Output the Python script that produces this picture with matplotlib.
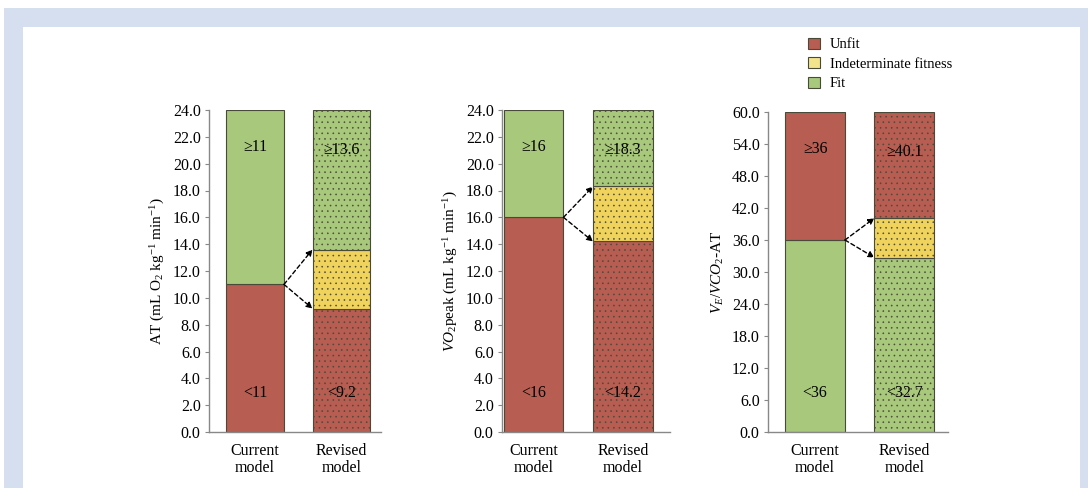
import matplotlib
matplotlib.use("Agg")
import matplotlib.pyplot as plt
from matplotlib.patches import Patch, Rectangle
import matplotlib.transforms as mtransforms

plt.rcParams["font.family"] = ["Liberation Serif", "DejaVu Serif"]
plt.rcParams["mathtext.fontset"] = "custom"
plt.rcParams["mathtext.rm"] = "Liberation Serif"
plt.rcParams["mathtext.it"] = "Liberation Serif:italic"
plt.rcParams["hatch.color"] = "#66665a"
plt.rcParams["hatch.linewidth"] = 0.4

# ---- data ----
models = ["Current\nmodel", "Revised\nmodel"]
ylabels = [
    r"AT (mL O$_2$ kg$^{-1}$ min$^{-1}$)",
    r"$VO_2$peak (mL kg$^{-1}$ min$^{-1}$)",
    r"$V_E$/$VCO_2$-AT",
]
axis_max = [24.0, 24.0, 60.0]
tick_step = [2.0, 2.0, 6.0]
current_cut = [11.0, 16.0, 36.0]
revised_low = [9.2, 14.2, 32.7]
revised_high = [13.6, 18.3, 40.1]
# True when a higher value means better fitness
higher_is_fit = [True, True, False]

RED = "#b75d51"
YELLOW = "#f0d35c"
GREEN = "#a8c87c"
FS = 11.5

fig = plt.figure(figsize=(10.88, 4.88), dpi=100)
fig.patch.set_facecolor("white")
# framed panel background
fig.add_artist(Rectangle((4 / 1088, 0), 1084 / 1088, 480 / 488,
                         transform=fig.transFigure, facecolor="#d5dff0",
                         edgecolor="none", zorder=-10))
fig.add_artist(Rectangle((23 / 1088, 0), 1057 / 1088, 461 / 488,
                         transform=fig.transFigure, facecolor="white",
                         edgecolor="none", zorder=-9))

axes_rect = [
    (209 / 1088, 56 / 488, 172 / 1088, 322 / 488),
    (502 / 1088, 56 / 488, 168 / 1088, 322 / 488),
    (768 / 1088, 56 / 488, 180 / 1088, 320 / 488),
]
xlims = [(-0.532, 1.457), (-0.352, 1.525), (-0.528, 1.49)]
width = 0.67

for i in range(3):
    ax = fig.add_axes(axes_rect[i])
    ax.set_facecolor("none")
    top = axis_max[i]
    lo_col, hi_col = (RED, GREEN) if higher_is_fit[i] else (GREEN, RED)
    edge = "#4a4a3a"

    # current model: two zones
    ax.bar(0, current_cut[i], width, color=lo_col, edgecolor=edge, linewidth=0.8)
    ax.bar(0, top - current_cut[i], width, bottom=current_cut[i], color=hi_col,
           edgecolor=edge, linewidth=0.8)
    # revised model: three zones with dotted fill
    ax.bar(1, revised_low[i], width, color=lo_col, edgecolor=edge,
           linewidth=0.8, hatch="...")
    ax.bar(1, revised_high[i] - revised_low[i], width, bottom=revised_low[i],
           color=YELLOW, edgecolor=edge, linewidth=0.8, hatch="...")
    ax.bar(1, top - revised_high[i], width, bottom=revised_high[i],
           color=hi_col, edgecolor=edge, linewidth=0.8, hatch="...")

    # dashed arrows from the current cut-off to the revised cut-offs
    for target in (revised_high[i], revised_low[i]):
        ax.annotate("", xy=(1 - width / 2, target),
                    xytext=(width / 2, current_cut[i]),
                    arrowprops=dict(arrowstyle="-|>", linestyle=(0, (3, 2)),
                                    color="black", lw=1.0,
                                    mutation_scale=9,
                                    shrinkA=0, shrinkB=0))

    trans = mtransforms.blended_transform_factory(ax.transData, ax.transAxes)

    def fmt(v):
        return f"{v:g}"

    ax.text(0, 0.885, "\u2265" + fmt(current_cut[i]), transform=trans,
            ha="center", va="center", fontsize=FS)
    ax.text(0, 0.121, "<" + fmt(current_cut[i]), transform=trans,
            ha="center", va="center", fontsize=FS)
    ax.text(1, 0.876, "\u2265" + fmt(revised_high[i]), transform=trans,
            ha="center", va="center", fontsize=FS)
    ax.text(1, 0.121, "<" + fmt(revised_low[i]), transform=trans,
            ha="center", va="center", fontsize=FS)

    ax.set_xlim(*xlims[i])
    ax.set_ylim(0, top)
    ticks = [tick_step[i] * k for k in range(int(round(top / tick_step[i])) + 1)]
    ax.set_yticks(ticks)
    ax.set_yticklabels([f"{t:.1f}" for t in ticks], fontsize=FS)
    ax.set_xticks([0, 1])
    ax.set_xticklabels(models, fontsize=FS, linespacing=1.1)
    ax.tick_params(axis="x", length=0, pad=8)
    ax.tick_params(axis="y", length=3, width=0.8, color="#888888", pad=3)
    for s in ("top", "right"):
        ax.spines[s].set_visible(False)
    for s in ("left", "bottom"):
        ax.spines[s].set_color("#888888")
        ax.spines[s].set_linewidth(1.0)
    ax.set_ylabel(ylabels[i], fontsize=11, labelpad=4)

legend_handles = [
    Patch(facecolor=RED, edgecolor="#4a4a3a", linewidth=0.8, label="Unfit"),
    Patch(facecolor="#f2e38c", edgecolor="#4a4a3a", linewidth=0.8,
          label="Indeterminate fitness"),
    Patch(facecolor=GREEN, edgecolor="#4a4a3a", linewidth=0.8, label="Fit"),
]
fig.legend(handles=legend_handles, loc="upper left",
           bbox_to_anchor=(802 / 1088, 1 - 32 / 488), frameon=False,
           fontsize=10.5, handlelength=0.8, handleheight=0.8,
           handletextpad=0.7, labelspacing=0.4, borderaxespad=0)

fig.savefig("out.png", dpi=100, facecolor="white")
